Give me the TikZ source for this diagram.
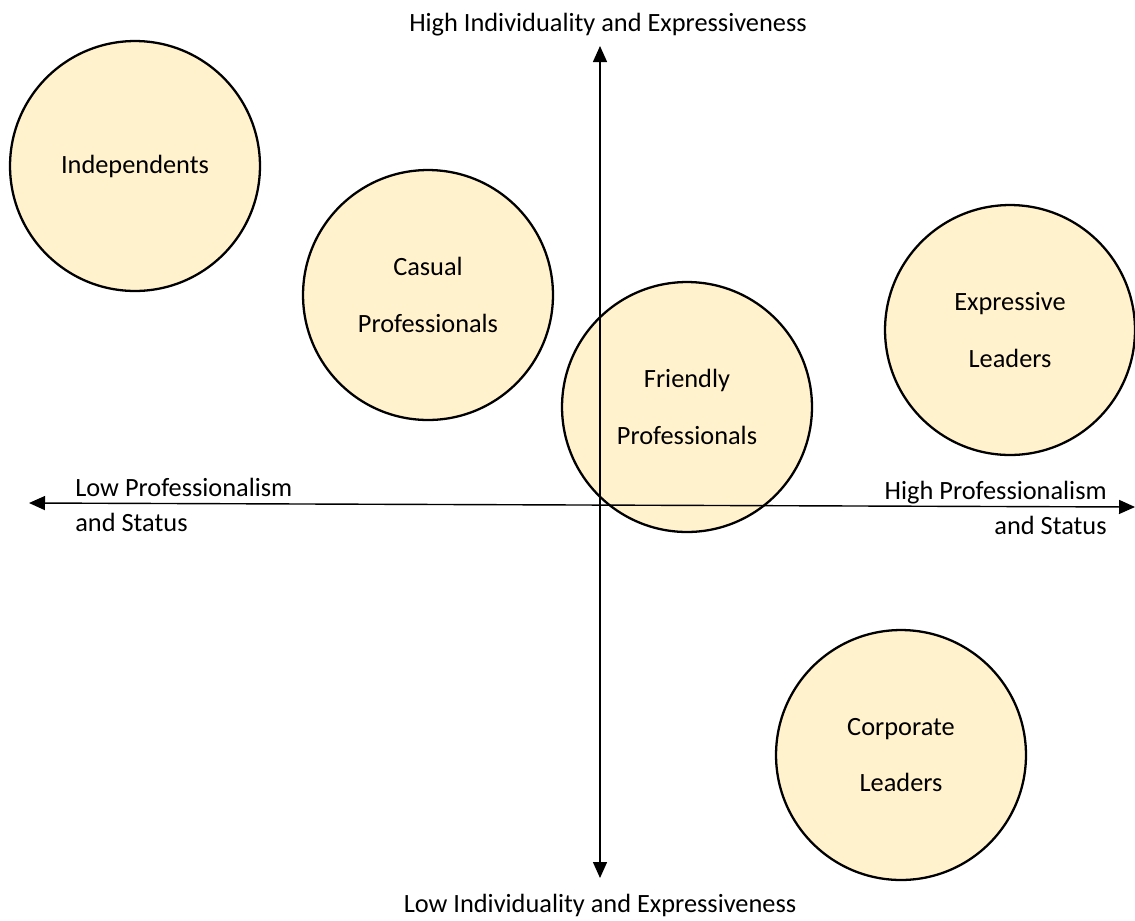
\documentclass[tikz,border=0pt]{standalone}
\usepackage{fontspec}
\setmainfont{Carlito}
\usetikzlibrary{arrows.meta}
\definecolor{segfill}{RGB}{255,242,204}

\begin{document}
\begin{tikzpicture}[
    x=0.02cm, y=-0.02cm,
    font=\fontsize{15}{20}\selectfont,
    segment/.style={circle, draw=black, fill=segfill, line width=1.3pt, minimum size=5cm, inner sep=0pt, align=center, font=\fontsize{15}{32}\selectfont},
    axis/.style={<->, >={Triangle[length=0.32cm, width=0.28cm]}, line width=0.8pt},
    lbl/.style={inner sep=0pt}
]
\useasboundingbox (0,0) rectangle (1135,920);

% customer segments
\node[segment] (indep) at (135,166) {Independents};
\node[segment] (casual) at (428,295) {Casual\\Professionals};
\node[segment] (friendly) at (687,407) {Friendly\\Professionals};
\node[segment] (express) at (1010,330) {Expressive\\Leaders};
\node[segment] (corp) at (901,755) {Corporate\\Leaders};

% axes
\coordinate (top) at (600,46);
\coordinate (bottom) at (600,878);
\coordinate (left) at (29,503);
\coordinate (right) at (1135,507);
\draw[axis] (bottom) -- (top);
\draw[axis] (left) -- (right);

% axis labels
\node[lbl] (hiInd) at (608,25) {High Individuality and Expressiveness};
\node[lbl] (loInd) at (600,905) {Low Individuality and Expressiveness};
\node[lbl, anchor=west, align=left] (loPro) at (75,505) {Low Professionalism\\and Status};
\node[lbl, anchor=east, align=right] (hiPro) at (1107,508) {High Professionalism\\and Status};

\end{tikzpicture}
\end{document}
